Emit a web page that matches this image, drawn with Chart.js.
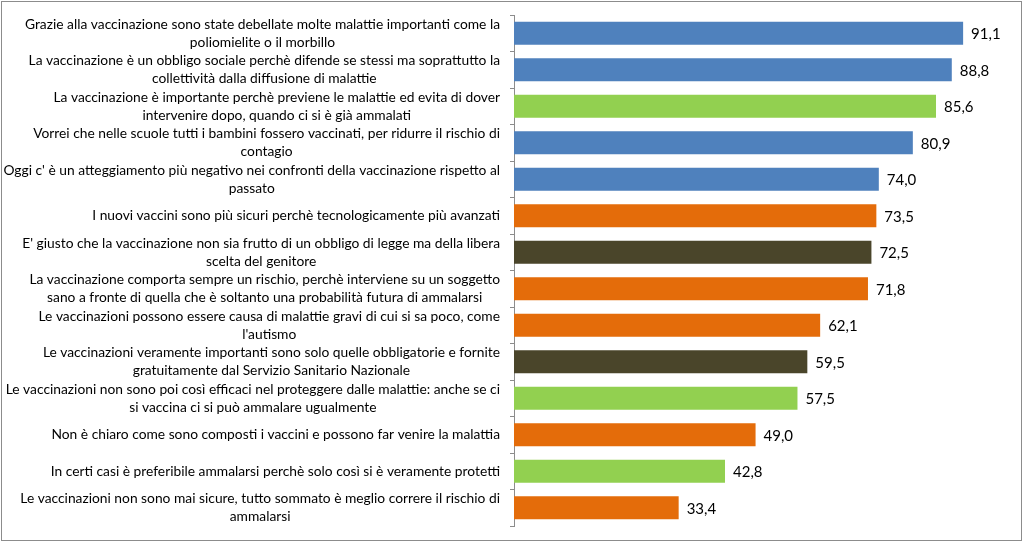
<!DOCTYPE html>
<html>
<head>
<meta charset="utf-8">
<script src="https://cdn.jsdelivr.net/npm/chart.js@4.4.0/dist/chart.umd.min.js"></script>
<style>
  html, body { margin: 0; padding: 0; background: #fff; }
  #wrap { position: relative; width: 1024px; height: 542px; }
  #frame { position: absolute; left: 1px; top: 1px; width: 1019px; height: 538px; border: 1px solid #8c8c8c; pointer-events: none; }
</style>
</head>
<body>
<div id="wrap">
<canvas id="c" width="1024" height="542"></canvas>
<div id="frame"></div>
</div>
<script>
const categories = [
  ["Grazie alla vaccinazione sono state debellate molte malattie importanti come la", "poliomielite o il morbillo"],
  ["La vaccinazione è un obbligo sociale perchè difende se stessi ma soprattutto la", "collettività dalla diffusione di malattie"],
  ["La vaccinazione è importante perchè previene le malattie ed evita di dover", "intervenire dopo, quando ci si è già ammalati"],
  ["Vorrei che nelle scuole tutti i bambini fossero vaccinati, per ridurre il rischio di", "contagio"],
  ["Oggi c' è un atteggiamento più negativo nei confronti della vaccinazione rispetto al", "passato"],
  ["I nuovi vaccini sono più sicuri perchè tecnologicamente più avanzati"],
  ["E' giusto che la vaccinazione non sia frutto di un obbligo di legge ma della libera", "scelta del genitore"],
  ["La vaccinazione comporta sempre un rischio, perchè interviene su un soggetto", "sano a fronte di quella che è soltanto una probabilità futura di ammalarsi"],
  ["Le vaccinazioni possono essere causa di malattie gravi di cui si sa poco, come", "l'autismo"],
  ["Le vaccinazioni veramente importanti sono solo quelle obbligatorie e fornite", "gratuitamente dal Servizio Sanitario Nazionale"],
  ["Le vaccinazioni non sono poi così efficaci nel proteggere dalle malattie: anche se ci", "si vaccina ci si può ammalare ugualmente"],
  ["Non è chiaro come sono composti i vaccini e possono far venire la malattia"],
  ["In certi casi è preferibile ammalarsi perchè solo così si è veramente protetti"],
  ["Le vaccinazioni non sono mai sicure, tutto sommato è meglio correre il rischio di", "ammalarsi"]
];
const values = [91.1, 88.8, 85.6, 80.9, 74.0, 73.5, 72.5, 71.8, 62.1, 59.5, 57.5, 49.0, 42.8, 33.4];
const BLUE = "#4f81bd", GREEN = "#92d050", ORANGE = "#e46c0a", DARK = "#4a452a";
const barColors = [BLUE, BLUE, GREEN, BLUE, BLUE, ORANGE, DARK, ORANGE, ORANGE, DARK, GREEN, ORANGE, GREEN, ORANGE];

const CAT_FONT = "13.8px Lato";
const VAL_FONT = "15px Lato";

const labelPlugin = {
  id: "labels",
  afterDraw(chart) {
    const ctx = chart.ctx;
    const yScale = chart.scales.y;
    ctx.save();
    ctx.fillStyle = "#000";
    ctx.font = CAT_FONT;
    ctx.textBaseline = "middle";
    ctx.textAlign = "center";
    const rightEdge = yScale.right - 14;
    const lh = 18;
    categories.forEach((lines, i) => {
      const yc = yScale.getPixelForTick(i);
      const w = Math.max(...lines.map(l => ctx.measureText(l).width));
      const cx = rightEdge - w / 2;
      const y0 = yc - (lines.length - 1) * lh / 2;
      lines.forEach((l, j) => ctx.fillText(l, cx, y0 + j * lh));
    });
    ctx.font = VAL_FONT;
    ctx.textAlign = "left";
    const meta = chart.getDatasetMeta(0);
    meta.data.forEach((bar, i) => {
      ctx.fillText(values[i].toFixed(1).replace(".", ","), bar.x + 8, bar.y + 1);
    });
    ctx.restore();
  }
};

new Chart(document.getElementById("c"), {
  type: "bar",
  data: {
    labels: categories,
    datasets: [{
      data: values,
      backgroundColor: barColors,
      borderWidth: 0,
      barPercentage: 0.63,
      categoryPercentage: 1.0
    }]
  },
  options: {
    indexAxis: "y",
    responsive: false,
    animation: false,
    events: [],
    layout: { padding: { left: 0, right: 17, top: 15, bottom: 16 } },
    plugins: { legend: { display: false }, tooltip: { enabled: false } },
    scales: {
      x: { display: false, min: 0, max: 100 },
      y: {
        ticks: { display: false },
        grid: { drawOnChartArea: false, drawTicks: true, tickLength: 4, color: "#8c8c8c", offset: true },
        border: { display: true, color: "#8c8c8c", width: 1 },
        afterFit(scale) { scale.width = 514; }
      }
    }
  },
  plugins: [labelPlugin]
});
</script>
</body>
</html>
